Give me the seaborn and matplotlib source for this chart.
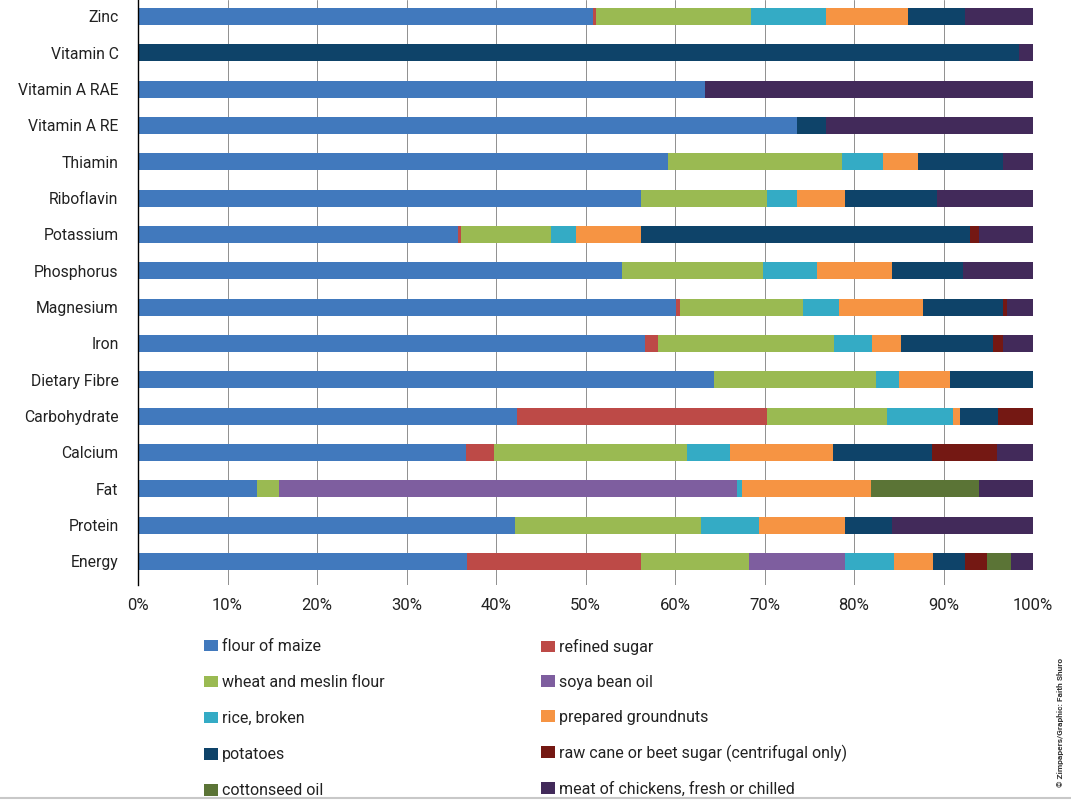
import numpy as np
import pandas as pd
import matplotlib
matplotlib.use("Agg")
import matplotlib.pyplot as plt
import seaborn as sns
from matplotlib.patches import Patch
from matplotlib.lines import Line2D

categories = ["Zinc", "Vitamin C", "Vitamin A RAE", "Vitamin A RE", "Thiamin",
              "Riboflavin", "Potassium", "Phosphorus", "Magnesium", "Iron",
              "Dietary Fibre", "Carbohydrate", "Calcium", "Fat", "Protein", "Energy"]

flour_of_maize = [50.8, 0, 63.3, 73.6, 59.2, 56.2, 35.8, 54.1, 60.1, 56.7, 64.4, 42.4, 36.7, 13.3, 42.1, 36.8]
refined_sugar  = [0.4, 0, 0, 0, 0, 0, 0.3, 0, 0.5, 1.4, 0, 27.9, 3.1, 0, 0, 19.4]
wheat_flour    = [17.3, 0, 0, 0, 19.5, 14.1, 10.1, 15.7, 13.7, 19.7, 18.1, 13.4, 21.5, 2.4, 20.8, 12.1]
soya_bean_oil  = [0, 0, 0, 0, 0, 0, 0, 0, 0, 0, 0, 0, 0, 51.2, 0, 10.7]
rice_broken    = [8.4, 0, 0, 0, 4.5, 3.3, 2.7, 6.1, 4.0, 4.2, 2.5, 7.4, 4.8, 0.6, 6.5, 5.5]
groundnuts     = [9.1, 0, 0, 0, 4.0, 5.4, 7.3, 8.3, 9.4, 3.3, 5.7, 0.7, 11.6, 14.4, 9.6, 4.3]
potatoes       = [6.4, 98.4, 0, 3.3, 9.4, 10.3, 36.8, 8.0, 9.0, 10.2, 9.3, 4.3, 11.0, 0, 5.2, 3.6]
raw_sugar      = [0, 0, 0, 0, 0, 0, 1.0, 0, 0.4, 1.1, 0, 3.9, 7.3, 0, 0, 2.5]
cottonseed_oil = [0, 0, 0, 0, 0, 0, 0, 0, 0, 0, 0, 0, 0, 12.1, 0, 2.6]
chicken_meat   = [7.6, 1.6, 36.7, 23.1, 3.4, 10.7, 6.0, 7.8, 2.9, 3.4, 0, 0, 4.0, 6.0, 15.8, 2.5]

series_names = ["flour of maize", "refined sugar", "wheat and meslin flour", "soya bean oil",
                "rice, broken", "prepared groundnuts", "potatoes",
                "raw cane or beet sugar (centrifugal only)", "cottonseed oil",
                "meat of chickens, fresh or chilled"]
series_values = [flour_of_maize, refined_sugar, wheat_flour, soya_bean_oil, rice_broken,
                 groundnuts, potatoes, raw_sugar, cottonseed_oil, chicken_meat]
colors = ["#4179BD", "#BD4A47", "#9ABA52", "#7E5E9F", "#34ABC5", "#F69443",
          "#0E4369", "#741813", "#5B7436", "#422A5A"]

sns.set_theme(style="white")
plt.rcParams['font.family'] = ['Roboto', 'DejaVu Sans']

W, H = 1071, 800
fig = plt.figure(figsize=(W / 100, H / 100), dpi=100)
ax = fig.add_axes([138 / W, 1 - 585 / H, (1033 - 138) / W, 585 / H])

cum = np.cumsum(np.array(series_values, dtype=float), axis=0)
for i in reversed(range(len(series_names))):
    d = pd.DataFrame({"category": categories, "value": cum[i]})
    sns.barplot(data=d, x="value", y="category", orient="h", order=categories,
                color=colors[i], saturation=1, width=0.47, linewidth=0,
                errorbar=None, ax=ax)

ax.set_xlim(0, 100)
ax.set_ylim(15.647, -0.454)
ticks = list(range(0, 101, 10))
ax.set_xticks(ticks)
ax.set_xticklabels([f"{t}%" for t in ticks])
ax.set_xlabel("")
ax.set_ylabel("")
ax.xaxis.grid(True, color="#8f8f8f", linewidth=0.7)
ax.yaxis.grid(False)
ax.set_axisbelow(True)
for s in ["top", "right", "bottom"]:
    ax.spines[s].set_visible(False)
ax.spines["left"].set_color("black")
ax.spines["left"].set_linewidth(1.0)
ax.tick_params(axis="y", length=0, pad=14, labelsize=11.3, labelcolor="#222222")
ax.tick_params(axis="x", length=0, pad=9, labelsize=12, labelcolor="#222222")

handles = [Patch(facecolor=c, edgecolor="none", label=n) for c, n in zip(colors, series_names)]
common = dict(frameon=False, fontsize=11.5, handlelength=0.85, handleheight=0.75,
              handletextpad=0.3, borderpad=0, borderaxespad=0, labelcolor="#222222")
fig.legend(handles=handles[0::2], loc="upper left", labelspacing=1.32,
           bbox_to_anchor=(204 / W, 1 - 639 / H), **common)
fig.legend(handles=handles[1::2], loc="upper left", labelspacing=1.24,
           bbox_to_anchor=(541 / W, 1 - 639 / H), **common)

fig.text(1061 / W, 1 - 722 / H, "© Zimpapers/Graphic: Faith Shuro", rotation=90,
         ha="center", va="center", fontsize=6, fontweight="bold", color="#333333")
fig.add_artist(Line2D([0, 1], [1 - 798 / H, 1 - 798 / H], transform=fig.transFigure,
                      color="#c8c8c8", linewidth=1.5))

fig.savefig("out.png", dpi=100)
